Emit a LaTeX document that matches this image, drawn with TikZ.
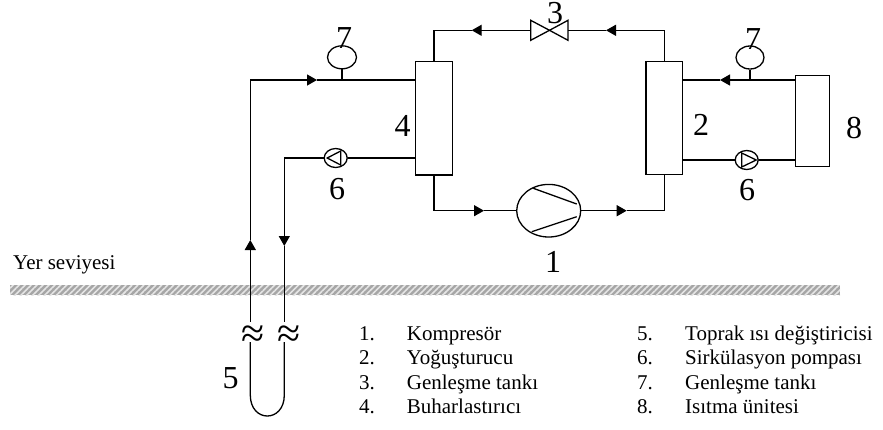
\documentclass[tikz,border=0pt]{standalone}
\usepackage{fontspec}
\setmainfont{Liberation Serif}
\usetikzlibrary{shapes,arrows.meta,patterns.meta}

\tikzset{
	pipe/.style={line width=1.3pt},
	flow/.style={line width=1.3pt, -{Triangle[length=10pt,width=11pt]}},
	hx/.style={rectangle, draw, line width=1.3pt, fill=white, inner sep=0pt},
	round/.style={ellipse, draw, line width=1.3pt, fill=white, inner sep=0pt},
	bignum/.style={inner sep=0pt, font=\fontsize{32}{34}\selectfont},
	legend/.style={inner sep=0pt, anchor=base west, font=\fontsize{21}{24}\selectfont},
	wave/.style={inner sep=0pt, font=\fontsize{42}{42}\selectfont},
}

\begin{document}
\begin{tikzpicture}[x=1pt, y=-1pt]
	\useasboundingbox (0,0) rectangle (883,429);

	% Ground level
	\fill[gray!70] (10,285) rectangle (840,295);
	\fill[pattern={Lines[angle=45,distance=4.2pt,line width=1.6pt]}, pattern color=gray!20] (10,285) rectangle (840,295);
	\node[legend] (ground) at (13,269) {Yer seviyesi};

	% Heat exchangers and heating unit
	\node[hx, minimum width=36.6pt, minimum height=113.3pt] (hxleft) at (434,118.3) {};
	\node[hx, minimum width=36.6pt, minimum height=113.3pt] (hxright) at (664.3,117.8) {};
	\node[hx, minimum width=34.4pt, minimum height=91pt] (unit) at (812.5,121.2) {};

	% Compressor
	\node[round, minimum width=64pt, minimum height=52.6pt] (comp) at (548.7,210.7) {};
	\draw[pipe] ([xshift=-15.4pt,yshift=22.4pt]comp.center) -- ([xshift=28pt,yshift=6.7pt]comp.center);
	\draw[pipe] ([xshift=-17pt,yshift=-21pt]comp.center) -- ([xshift=28pt,yshift=-6pt]comp.center);

	% Valve
	\coordinate (valve) at (549.5,30.3);
	\coordinate (valveleft) at (530.7,30.3);
	\coordinate (valveright) at (568,30.3);
	\draw[pipe, line join=miter] (valve) -- ([yshift=10pt]valveleft) -- ([yshift=-10pt]valveleft) -- cycle;
	\draw[pipe, line join=miter] (valve) -- ([yshift=10pt]valveright) -- ([yshift=-10pt]valveright) -- cycle;

	% Gauges
	\node[round, minimum width=29pt, minimum height=23pt] (gaugeleft) at (342,57.3) {};
	\node[round, minimum width=28pt, minimum height=23pt] (gaugeright) at (750,57.5) {};

	% Pumps
	\node[round, minimum width=23pt, minimum height=19pt] (pumpleft) at (335.7,158) {};
	\node[round, minimum width=23pt, minimum height=19pt] (pumpright) at (746.7,160) {};
	\draw[pipe] ([xshift=-8.5pt]pumpleft.center) -- ([xshift=5pt,yshift=7pt]pumpleft.center) -- ([xshift=5pt,yshift=-7pt]pumpleft.center) -- cycle;
	\draw[pipe] ([xshift=9.5pt]pumpright.center) -- ([xshift=-5pt,yshift=7pt]pumpright.center) -- ([xshift=-5pt,yshift=-7pt]pumpright.center) -- cycle;

	% Condenser loop
	\coordinate (topleft) at (hxleft.north |- valve);
	\coordinate (topright) at (hxright.north |- valve);
	\coordinate (flowtopright) at (606,30.3);
	\coordinate (flowtopleft) at (471.7,30.3);
	\draw[flow] (topright) -- (flowtopright);
	\draw[pipe] (flowtopright) -- (valveright);
	\draw[flow] (valveleft) -- (flowtopleft);
	\draw[pipe] (flowtopleft) -- (topleft) -- (hxleft.north);
	\draw[pipe] (hxright.north) -- (topright);

	\coordinate (botleft) at (hxleft.south |- comp.west);
	\coordinate (botright) at (hxright.south |- comp.east);
	\coordinate (flowbotleft) at (484,210.7);
	\coordinate (flowbotright) at (626.7,210.7);
	\draw[pipe] (hxleft.south) -- (botleft);
	\draw[flow] (botleft) -- (flowbotleft);
	\draw[pipe] (flowbotleft) -- (comp.west);
	\draw[flow] (comp.east) -- (flowbotright);
	\draw[pipe] (flowbotright) -- (botright) -- (hxright.south);

	% Heating side
	\coordinate (flowunit) at (720,80);
	\coordinate (gaugeunit) at (gaugeright.south |- flowunit);
	\draw[flow] (unit.west |- flowunit) -- (flowunit);
	\draw[pipe] (flowunit) -- (hxright.east |- flowunit);
	\draw[pipe] (gaugeright.south) -- (gaugeunit);
	\draw[pipe] (unit.west |- pumpright.east) -- (pumpright.east);
	\draw[pipe] (pumpright.west) -- (hxright.east |- pumpright.west);

	% Ground side
	\coordinate (upbreak) at (250.3,321.7);
	\coordinate (upflow) at (250.3,240);
	\coordinate (upcorner) at (250.3,80);
	\coordinate (flowground) at (317,80);
	\coordinate (gaugeground) at (gaugeleft.south |- flowground);
	\draw[flow] (upbreak) -- (upflow);
	\draw[pipe] (upflow) -- (upcorner);
	\draw[flow] (upcorner) -- (flowground);
	\draw[pipe] (flowground) -- (hxleft.west |- flowground);
	\draw[pipe] (gaugeleft.south) -- (gaugeground);

	\coordinate (downcorner) at (284.3,158);
	\coordinate (downflow) at (284.3,246);
	\coordinate (downbreak) at (284.3,321.7);
	\draw[pipe] (hxleft.west |- pumpleft.east) -- (pumpleft.east);
	\draw[pipe] (pumpleft.west) -- (downcorner);
	\draw[flow] (downcorner) -- (downflow);
	\draw[pipe] (downflow) -- (downbreak);

	% Buried loop
	\node[wave] (breakleft) at (253,337) {≈};
	\node[wave] (breakright) at (288.7,337) {≈};
	\coordinate (uleft) at (250.3,342);
	\coordinate (uright) at (284.3,342);
	\draw[pipe] (uleft) -- (250.3,395) .. controls (250.3,423) and (284.3,423) .. (284.3,395) -- (uright);

	% Numbers
	\node[bignum] (num1) at (553,262) {1};
	\node[bignum] (num2) at (701,125) {2};
	\node[bignum] (num3) at (555,13) {3};
	\node[bignum] (num4) at (402.7,126) {4};
	\node[bignum] (num5) at (230.7,378) {5};
	\node[bignum] (num6a) at (337,189) {6};
	\node[bignum] (num6b) at (747,190) {6};
	\node[bignum] (num7a) at (344,38) {7};
	\node[bignum] (num7b) at (753,39) {7};
	\node[bignum] (num8) at (854,128) {8};

	% Legend
	\node[legend] (leg1) at (359,340) {1.};
	\node[legend] (leg2) at (359,364.5) {2.};
	\node[legend] (leg3) at (359,389) {3.};
	\node[legend] (leg4) at (359,413) {4.};
	\node[legend] (txt1) at (406.7,340) {Kompresör};
	\node[legend] (txt2) at (406.7,364.5) {Yoğuşturucu};
	\node[legend] (txt3) at (406.7,389) {Genleşme tankı};
	\node[legend] (txt4) at (406.7,413) {Buharlastırıcı};
	\node[legend] (leg5) at (637,340) {5.};
	\node[legend] (leg6) at (637,364.5) {6.};
	\node[legend] (leg7) at (637,389) {7.};
	\node[legend] (leg8) at (637,413) {8.};
	\node[legend] (txt5) at (685,340) {Toprak ısı değiştiricisi};
	\node[legend] (txt6) at (685,364.5) {Sirkülasyon pompası};
	\node[legend] (txt7) at (685,389) {Genleşme tankı};
	\node[legend] (txt8) at (685,413) {Isıtma ünitesi};
\end{tikzpicture}
\end{document}
